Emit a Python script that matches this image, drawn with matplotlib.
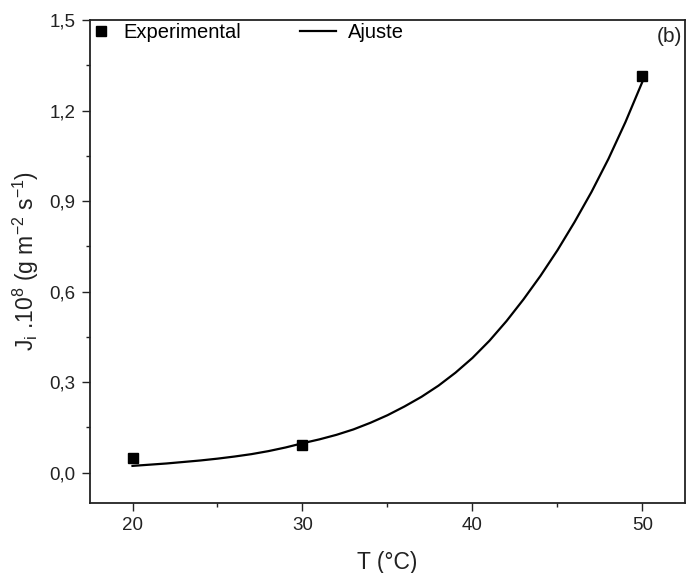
import matplotlib
matplotlib.use("Agg")
import matplotlib.pyplot as plt
from matplotlib.ticker import MultipleLocator

plt.rcParams['font.family'] = ['Liberation Sans', 'DejaVu Sans']

# experimental points
temp_exp = [20, 30, 50]
flux_exp = [0.048, 0.090, 1.314]

# fitted curve (1 degree steps)
temp_fit = [20, 21, 22, 23, 24, 25, 26, 27, 28, 29, 30, 31, 32, 33, 34, 35,
            36, 37, 38, 39, 40, 41, 42, 43, 44, 45, 46, 47, 48, 49, 50]
flux_fit = [0.022, 0.026, 0.030, 0.035, 0.040, 0.046, 0.053, 0.061, 0.071,
            0.083, 0.097, 0.110, 0.125, 0.143, 0.165, 0.190, 0.219, 0.251,
            0.288, 0.331, 0.380, 0.437, 0.502, 0.574, 0.652, 0.737, 0.830,
            0.930, 1.040, 1.162, 1.296]

xticks = [20, 30, 40, 50]
yticks = [0.0, 0.3, 0.6, 0.9, 1.2, 1.5]
ytick_labels = ['0,0', '0,3', '0,6', '0,9', '1,2', '1,5']

ink = '#222222'

fig = plt.figure(figsize=(6.86, 5.73), dpi=100)
ax = fig.add_axes([0.1312, 0.1227, 0.8673, 0.8423])

pts, = ax.plot(temp_exp, flux_exp, 's', color='black', markersize=6.5, label='Experimental')
fit, = ax.plot(temp_fit, flux_fit, '-', color='black', linewidth=1.6, label='Ajuste')

ax.set_xlim(17.5, 52.5)
ax.set_ylim(-0.1, 1.5)
ax.set_xticks(xticks)
ax.set_yticks(yticks)
ax.set_yticklabels(ytick_labels)
ax.xaxis.set_minor_locator(MultipleLocator(5))
ax.yaxis.set_minor_locator(MultipleLocator(0.15))
ax.tick_params(which='major', direction='out', length=5.5, width=1, labelsize=13.5,
               colors=ink, pad=5)
ax.tick_params(which='minor', direction='out', length=3, width=1, colors=ink)
for s in ax.spines.values():
    s.set_linewidth(1.3)
    s.set_color(ink)

ax.set_xlabel('T (°C)', fontsize=16.5, color=ink, labelpad=12)
ax.set_ylabel(r'J$_\mathregular{i}$ .10$^\mathregular{8}$ (g m$^\mathregular{-2}$ s$^\mathregular{-1}$)',
              fontsize=16.5, color=ink, labelpad=6)

leg1 = ax.legend(handles=[pts], loc='upper left', frameon=False, fontsize=14.5,
                 handlelength=0.8, handletextpad=0.7, borderaxespad=0, borderpad=0.15)
ax.add_artist(leg1)
ax.legend(handles=[fit], loc='upper left', bbox_to_anchor=(0.348, 1.0), frameon=False,
          fontsize=14.5, handlelength=1.8, handletextpad=0.6, borderaxespad=0, borderpad=0.15)

ax.text(0.995, 0.985, '(b)', transform=ax.transAxes, ha='right', va='top',
        fontsize=15, color=ink)

fig.savefig('out.png', dpi=100)
